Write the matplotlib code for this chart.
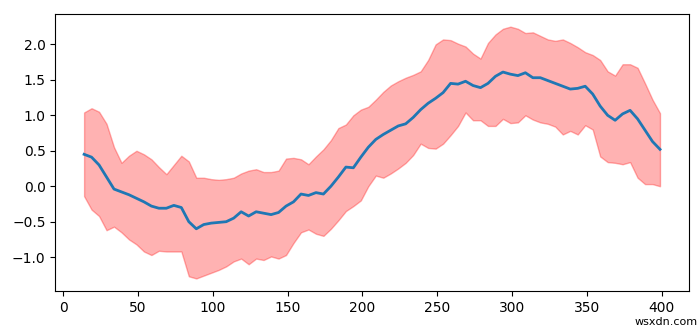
import numpy as np
import matplotlib
matplotlib.use('Agg')
import matplotlib.pyplot as plt

# rolling window positions (every 5th sample)
x = np.arange(14, 400, 5)

rolling_mean = [0.45, 0.41, 0.30, 0.13, -0.04, -0.08, -0.12, -0.17, -0.22, -0.28,
                -0.31, -0.31, -0.27, -0.30, -0.50, -0.60, -0.54, -0.52, -0.51, -0.50,
                -0.45, -0.36, -0.42, -0.36, -0.38, -0.40, -0.37, -0.28, -0.22, -0.11,
                -0.13, -0.09, -0.11, 0.00, 0.13, 0.27, 0.26, 0.41, 0.55, 0.66,
                0.73, 0.79, 0.85, 0.88, 0.97, 1.08, 1.17, 1.24, 1.32, 1.45,
                1.44, 1.48, 1.42, 1.39, 1.45, 1.55, 1.61, 1.58, 1.56, 1.60,
                1.53, 1.53, 1.49, 1.45, 1.41, 1.37, 1.38, 1.41, 1.30, 1.13,
                1.00, 0.93, 1.02, 1.07, 0.95, 0.79, 0.63, 0.52]

upper = [1.04, 1.10, 1.05, 0.88, 0.55, 0.33, 0.43, 0.50, 0.45, 0.38,
         0.27, 0.17, 0.30, 0.43, 0.35, 0.12, 0.12, 0.10, 0.09, 0.10,
         0.12, 0.18, 0.22, 0.24, 0.20, 0.20, 0.22, 0.39, 0.40, 0.38,
         0.31, 0.42, 0.52, 0.65, 0.82, 0.87, 1.00, 1.08, 1.12, 1.22,
         1.33, 1.42, 1.48, 1.53, 1.57, 1.62, 1.78, 2.00, 2.07, 2.06,
         2.01, 1.97, 1.87, 1.80, 2.02, 2.14, 2.22, 2.25, 2.22, 2.16,
         2.17, 2.12, 2.07, 2.05, 2.07, 2.02, 1.96, 1.89, 1.85, 1.78,
         1.62, 1.56, 1.72, 1.72, 1.67, 1.45, 1.22, 1.03]

lower = [-0.14, -0.33, -0.42, -0.62, -0.57, -0.65, -0.75, -0.82, -0.92, -0.97,
         -0.91, -0.92, -0.92, -0.92, -1.27, -1.30, -1.26, -1.22, -1.18, -1.13,
         -1.06, -1.02, -1.10, -1.02, -1.04, -0.99, -1.02, -0.97, -0.80, -0.65,
         -0.61, -0.67, -0.70, -0.60, -0.48, -0.35, -0.28, -0.20, 0.00, 0.15,
         0.12, 0.18, 0.25, 0.33, 0.44, 0.60, 0.54, 0.53, 0.60, 0.72,
         0.85, 1.04, 0.93, 0.93, 0.85, 0.85, 0.95, 0.89, 0.90, 1.00,
         0.94, 0.90, 0.88, 0.84, 0.73, 0.78, 0.73, 0.86, 0.80, 0.42,
         0.34, 0.33, 0.31, 0.34, 0.12, 0.03, 0.03, 0.00]

fig = plt.figure(figsize=(7, 3.27), dpi=100)
ax = fig.add_subplot(111)
fig.subplots_adjust(left=0.079, right=0.984, top=0.957, bottom=0.110)

ax.plot(x, rolling_mean, lw=2)
ax.fill_between(x, lower, upper, color='red', alpha=0.3)

# site watermark in the bottom-right corner
fig.text(0.997, 0.0, 'wsxdn.com', ha='right', va='bottom', fontsize=8)

plt.savefig('out.png', dpi=100)
